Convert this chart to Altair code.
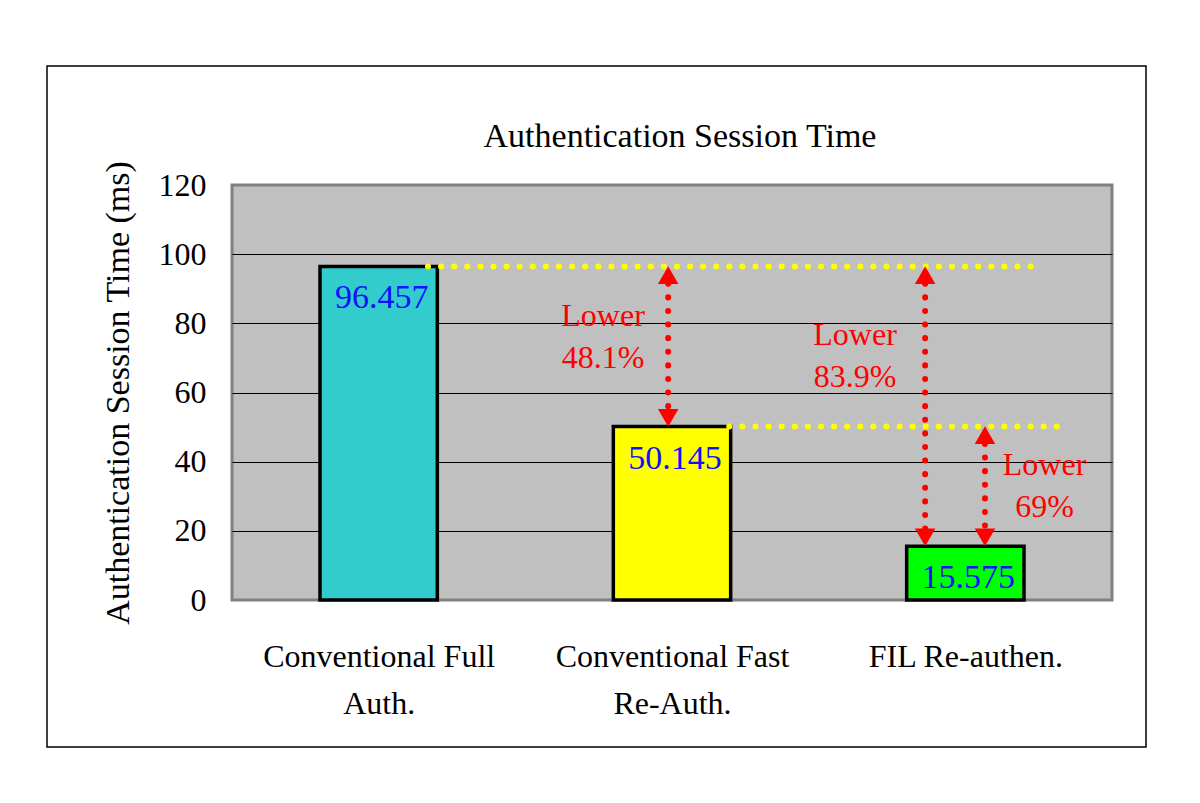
import altair as alt
import pandas as pd

# ---------------- data ----------------
categories = [["Conventional Full", "Auth."], ["Conventional Fast", "Re-Auth."], ["FIL Re-authen."]]
values = [96.457, 50.145, 15.575]
bar_colors = ["#33CCCC", "#FFFF00", "#00FF00"]
value_labels = ["96.457", "50.145", "15.575"]

# yellow dotted reference lines (x in category units, 0..3)
guide_x_start = [0.668, 1.695]
guide_x_end = [2.745, 2.833]
guide_y = [96.457, 50.145]

# red double-headed dotted arrows
arrow_x = [1.487, 2.363, 2.567]
arrow_top = [96.457, 96.457, 50.145]
arrow_bottom = [50.145, 15.575, 15.575]

# reduction notes (y = first line)
note_text = ["Lower\n48.1%", "Lower\n83.9%", "Lower\n69%"]
note_x = [1.265, 2.124, 2.77]
note_y = [82.1, 76.6, 39.0]

y_ticks = [0, 20, 40, 60, 80, 100, 120]

W, H = 880, 415
YMAX = 120
px_per_unit = H / YMAX
SERIF = "Liberation Serif"

# ---------------- tables ----------------
pos = [i + 0.5 for i in range(len(values))]
bars = pd.DataFrame({
    "pos": pos,
    "x0": [p - 0.2 for p in pos],
    "x1": [p + 0.2 for p in pos],
    "value": values,
    "color": bar_colors,
    "label": value_labels,
})
guides = pd.DataFrame({"x0": guide_x_start, "x1": guide_x_end, "y": guide_y})

head_h = 17.3  # triangle height in px (size 400)
off_center = (head_h / 2) / px_per_unit
off_base = head_h / px_per_unit
arrows = pd.DataFrame({
    "x": arrow_x,
    "y0": [t - off_base for t in arrow_top],
    "y1": [b + off_base for b in arrow_bottom],
})
heads = pd.DataFrame({
    "x": arrow_x + arrow_x,
    "y": [t - off_center for t in arrow_top] + [b + off_center for b in arrow_bottom],
    "shape": ["triangle-up"] * len(arrow_x) + ["triangle-down"] * len(arrow_x),
})
notes = pd.DataFrame({"x": note_x, "y": note_y, "text": note_text})


def js_label(c):
    if len(c) == 1:
        return "'" + c[0] + "'"
    return "[" + ",".join("'" + s + "'" for s in c) + "]"


label_expr = (
    f"datum.value < 1 ? {js_label(categories[0])} : "
    f"(datum.value < 2 ? {js_label(categories[1])} : {js_label(categories[2])})"
)

xscale = alt.Scale(domain=[0, 3], nice=False, zero=False)
yscale = alt.Scale(domain=[0, YMAX], nice=False)

x_axis = alt.Axis(
    values=pos, labelExpr=label_expr, grid=False, ticks=False, domain=False,
    labelFont=SERIF, labelFontSize=32, labelColor="black", labelPadding=41,
    labelLineHeight=47, labelFlush=False, labelOverlap=False, labelLimit=0,
    title=None,
)
y_axis = alt.Axis(
    values=y_ticks, grid=True, ticks=False, domain=False,
    gridColor={"condition": {"test": "datum.value == 0 || datum.value == 120", "value": "transparent"}, "value": "black"},
    gridWidth=1,
    labelFont=SERIF, labelFontSize=32, labelColor="black", labelPadding=26,
    title="Authentication Session Time (ms)", titleFont=SERIF, titleFontSize=34,
    titleFontWeight="normal", titleColor="black", titleX=-114, titleY=H / 2,
    titleAlign="center", titleBaseline="middle", titleAngle=-90, titleLimit=0,
)

frame = alt.Chart(pd.DataFrame({"a": [0]})).mark_rect(
    fill="transparent", stroke="black", strokeWidth=1.5
).encode(
    x=alt.value(-185), x2=alt.value(914), y=alt.value(-119), y2=alt.value(562)
)

bar_layer = alt.Chart(bars).mark_rect(stroke="black", strokeWidth=3.5).encode(
    x=alt.X("x0:Q", scale=xscale, axis=x_axis),
    x2="x1:Q",
    y=alt.Y("value:Q", scale=yscale, axis=y_axis),
    y2=alt.datum(0),
    fill=alt.Fill("color:N", scale=None, legend=None),
)

value_text = alt.Chart(bars).mark_text(
    font=SERIF, fontSize=34, color="#1010FF", baseline="top", dy=15, dx=3
).encode(x="pos:Q", y="value:Q", text="label:N")

guide_layer = alt.Chart(guides).mark_rule(
    color="#FFFF00", strokeWidth=6, strokeDash=[0.1, 13], strokeCap="round"
).encode(x="x0:Q", x2="x1:Q", y="y:Q")

arrow_layer = alt.Chart(arrows).mark_rule(
    color="#FF0000", strokeWidth=6, strokeDash=[0.1, 13.5], strokeCap="round"
).encode(x="x:Q", y="y0:Q", y2="y1:Q")

head_layer = alt.Chart(heads).mark_point(
    filled=True, size=420, color="#FF0000", opacity=1, strokeWidth=0
).encode(
    x="x:Q", y="y:Q",
    shape=alt.Shape("shape:N", scale=None, legend=None),
)

note_layer = alt.Chart(notes).mark_text(
    font=SERIF, fontSize=32, color="#FF0000", lineBreak="\n", lineHeight=42,
    align="center", baseline="middle"
).encode(x="x:Q", y="y:Q", text="text:N")

chart = alt.layer(
    frame, bar_layer, guide_layer, arrow_layer, head_layer, value_text, note_layer
).properties(
    width=W, height=H,
    title=alt.TitleParams(
        "Authentication Session Time", font=SERIF, fontSize=34,
        fontWeight="normal", color="black", offset=-89, dx=8
    ),
    padding={"left": 224, "top": 177, "right": 80, "bottom": 180},
    autosize=alt.AutoSizeParams(type="none"),
    background="white",
).configure_view(
    fill="#C0C0C0", stroke="#808080", strokeWidth=3
)

chart.save("out.html", embed_options={"renderer": "svg", "actions": False})
